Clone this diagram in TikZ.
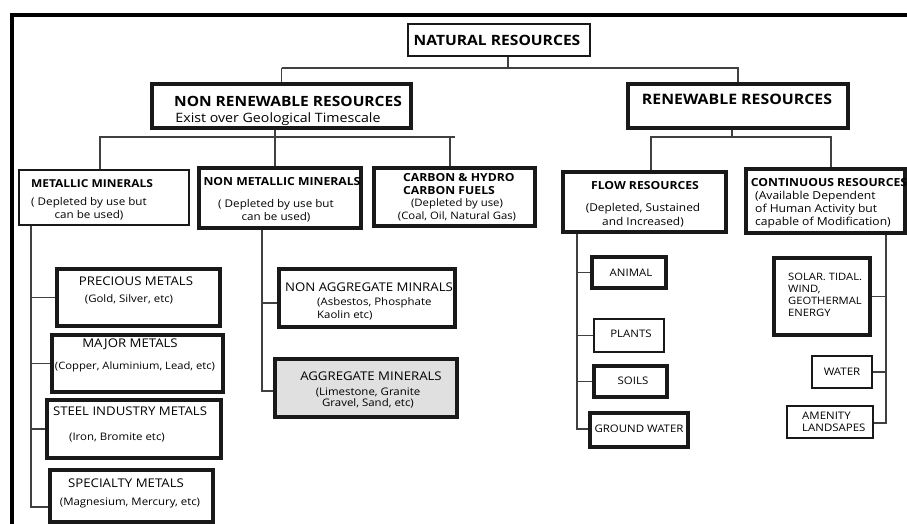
\documentclass[tikz,border=0pt]{standalone}
\usepackage{fontspec}
\setmainfont{Open Sans}[FakeStretch=1.1]
\usetikzlibrary{fit}
\begin{document}
\begin{tikzpicture}[x=1pt,y=-1pt,
  box/.style={draw=black!90, line width=3.2pt, fill=white, inner sep=0pt},
  midbox/.style={box, line width=2.6pt},
  thinbox/.style={box, line width=2.2pt},
  aggbox/.style={box, fill=black!12},
  conn/.style={draw=black!75, line width=1.5pt},
  txt/.style={inner sep=0pt, font=\fontsize{10.4}{13}\selectfont, align=center},
  captxt/.style={txt, font=\fontsize{12}{13}\selectfont},
  ltxt/.style={txt, align=left, anchor=west},
  hd/.style={inner sep=0pt, font=\fontsize{11.1}{13}\selectfont\bfseries, align=center},
  big/.style={inner sep=0pt, font=\fontsize{14.2}{16}\selectfont\bfseries}]
\useasboundingbox (0,0) rectangle (907,524);
\fill[white] (0,0) rectangle (907,524);
% outer frame
\draw[line width=3.2pt] (12,524) -- (12,15) -- (907,15);

% boxes
\node[midbox, fit={(408,24) (590,56)}] (nr) {};
\node[box, fit={(152,84) (411,128)}] (nrr) {};
\node[box, fit={(628,84) (848,128)}] (ren) {};
\node[midbox, fit={(19,170) (189,225)}] (met) {};
\node[box, fit={(199,168) (361,228)}] (nmet) {};
\node[box, fit={(374,168) (535,226)}] (carb) {};
\node[box, fit={(563,172) (726,232)}] (flow) {};
\node[box, fit={(746,169) (905,233)}] (cont) {};
\node[box, fit={(57,269) (220,326)}] (prec) {};
\node[box, fit={(52,335) (223,392)}] (maj) {};
\node[box, fit={(47,400) (221,458)}] (steel) {};
\node[box, fit={(50,470) (213,522)}] (spec) {};
\node[box, fit={(279,269) (455,327)}] (nagg) {};
\node[aggbox, fit={(275,359) (457,417)}] (agg) {};
\node[box, fit={(592,257) (666,288)}] (anim) {};
\node[midbox, fit={(594,319) (664,352)}] (plan) {};
\node[box, fit={(594,366) (667,397)}] (soil) {};
\node[box, fit={(590,413) (688,447)}] (gw) {};
\node[box, fit={(774,258) (870,335)}] (solar) {};
\node[thinbox, fit={(812,356) (872,388)}] (water) {};
\node[thinbox, fit={(787,406) (873,438)}] (amen) {};

% texts
\node[big] (t-nr) at (497,40) {NATURAL RESOURCES};
\node[big, font=\fontsize{14.1}{16}\selectfont\bfseries] (t-nrr) at (288,101) {NON RENEWABLE RESOURCES};
\node[txt, font=\fontsize{12.9}{14}\selectfont] (t-nrr2) at (278,119) {Exist over Geological Timescale};
\node[big, font=\fontsize{14.4}{16}\selectfont\bfseries] (t-ren) at (737,99) {RENEWABLE RESOURCES};

\node[hd, font=\fontsize{10.9}{13}\selectfont\bfseries] (t-met) at (92,184) {METALLIC MINERALS};
\node[txt, font=\fontsize{10.6}{13}\selectfont] (t-met2) at (89,208.5) {( Depleted by use but\\can be used)};
\node[hd] (t-nmet) at (282,182) {NON METALLIC MINERALS};
\node[txt, font=\fontsize{10.6}{13}\selectfont] (t-nmet2) at (276,210.5) {( Depleted by use but\\can be used)};
\node[hd, align=left, anchor=west] (t-carb) at (403,184) {CARBON \& HYDRO\\CARBON FUELS};
\node[txt, font=\fontsize{10.3}{13}\selectfont] (t-carb2) at (457,209.5) {(Depleted by use)\\(Coal, Oil, Natural Gas)};
\node[hd] (t-flow) at (645,186) {FLOW RESOURCES};
\node[txt, font=\fontsize{10.8}{14}\selectfont] (t-flow2) at (643,215) {(Depleted, Sustained\\and Increased)};
\node[hd] (t-cont) at (829,183) {CONTINUOUS RESOURCES};
\node[ltxt, font=\fontsize{11}{13}\selectfont] (t-cont2) at (755,210) {(Available Dependent\\of Human Activity but\\capable of Modification)};

\node[captxt] (t-prec) at (136,281) {PRECIOUS METALS};
\node[txt] (t-prec2) at (129,299) {(Gold, Silver, etc)};
\node[captxt] (t-maj) at (130,344) {MAJOR METALS};
\node[txt, font=\fontsize{10.2}{13}\selectfont] (t-maj2) at (135,367) {(Copper, Aluminium, Lead, etc)};
\node[captxt] (t-steel) at (130,411) {STEEL INDUSTRY METALS};
\node[txt] (t-steel2) at (117,438) {(Iron, Bromite etc)};
\node[captxt] (t-spec) at (126,483) {SPECIALTY METALS};
\node[txt] (t-spec2) at (130,503) {(Magnesium, Mercury, etc)};

\node[captxt] (t-nagg) at (369,287) {NON AGGREGATE MINRALS};
\node[ltxt] (t-nagg2) at (317,308.5) {(Asbestos, Phosphate\\Kaolin etc)};
\node[captxt] (t-agg) at (371,376) {AGGREGATE MINERALS};
\node[txt, font=\fontsize{10.4}{11}\selectfont] (t-agg2) at (368,398) {(Limestone, Granite\\Gravel, Sand, etc)};

\node[txt] (t-anim) at (631,273) {ANIMAL};
\node[txt] (t-plan) at (631,334) {PLANTS};
\node[txt] (t-soil) at (633,381) {SOILS};
\node[txt] (t-gw) at (639,429) {GROUND WATER};
\node[ltxt, font=\fontsize{10.2}{12}\selectfont] (t-solar) at (788,295) {SOLAR. TIDAL.\\WIND,\\GEOTHERMAL\\ENERGY};
\node[txt] (t-water) at (842,372) {WATER};
\node[ltxt, font=\fontsize{10.4}{12}\selectfont] (t-amen) at (802,422) {AMENITY\\LANDSAPES};

% connectors, level 1
\coordinate (b0) at (508,68);
\draw[conn] (b0 |- nr.south) -- (b0);
\draw[conn] (nrr.north |- b0) -| (nrr.north);
\draw[conn] (nrr.north |- b0) -- (ren.north |- b0) -- (ren.north);
% level 2 left
\coordinate (b1) at (275,137);
\draw[conn] (b1 |- nrr.south) -- (b1);
\draw[conn] (met.north -| 100,0) |- (carb.north |- b1);
\draw[conn] (b1) -- (b1 |- nmet.north);
\draw[conn] (carb.north -| 450,0) -- (450,137);
% level 2 right
\coordinate (b2) at (732,137);
\draw[conn] (b2 |- ren.south) -- (b2);
\draw[conn] (flow.north -| 651,0) |- (b2);
\draw[conn] (b2) -| (cont.north -| 831,0);
% metallic trunk
\coordinate (m0) at (31,507);
\draw[conn] (m0 |- met.south) -- (m0) -- (m0 -| spec.west);
\draw[conn] (m0 |- prec.west) -- (prec.west);
\draw[conn] (m0 |- maj.west) -- (maj.west);
\draw[conn] (m0 |- steel.west) -- (steel.west);
% non metallic trunk
\coordinate (n0) at (262,391);
\draw[conn] (n0 |- nmet.south) -- (n0) -- (n0 -| agg.west);
\draw[conn] (262,303) -- (nagg.west |- 0,303);
% flow trunk
\coordinate (f0) at (577,429);
\draw[conn] (f0 |- flow.south) -- (f0) -- (f0 -| gw.west);
\draw[conn] (f0 |- anim.west) -- (anim.west);
\draw[conn] (f0 |- plan.west) -- (plan.west);
\draw[conn] (f0 |- soil.west) -- (soil.west);
% continuous trunk
\coordinate (c0) at (886,423);
\draw[conn] (c0 |- cont.south) -- (c0) -- (c0 -| amen.east);
\draw[conn] (c0 |- solar.east) -- (solar.east);
\draw[conn] (c0 |- water.east) -- (water.east);
\end{tikzpicture}
\end{document}
